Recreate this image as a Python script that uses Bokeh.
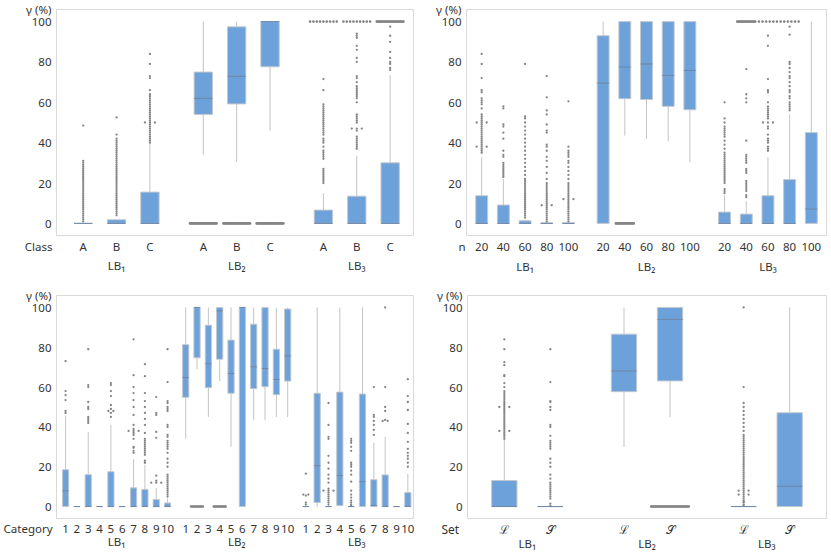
import numpy as np
from bokeh.plotting import figure
from bokeh.models import Range1d, FixedTicker, LinearAxis
from bokeh.layouts import column, row
from bokeh.embed import file_html
from bokeh.resources import INLINE

GROUPS = ["LB₁", "LB₂", "LB₃"]
Y_TITLE = "γ (%)"

# ---------------- Panel 1: by class ----------------
P1_title = "Class"
P1_cats = ["A", "B", "C"]
P1_q1 = [0, 0, 0, 54, 59.2, 77.6, 0, 0, 0]
P1_med = [0, 0, 0, 62, 72.9, 100, 0, 0, 0]
P1_q3 = [0, 1.8, 15.5, 75, 97.4, 100, 6.6, 13.5, 30]
P1_lo = [0, 0, 0, 34, 30.3, 46, 0, 0, 0]
P1_hi = [0, 1.8, 39.5, 100, 100, 100, 15, 33.5, 73.5]
P1_out = [
    [1, 2, 3, 4, 5, 6, 7, 8, 9, 10, 11, 12, 13, 14, 15, 16, 17, 18, 19, 20, 21, 22, 23, 24, 25, 26, 27, 28, 29, 30, 31, 48.5],
    [4, 5, 6, 7, 8, 9, 10, 11, 12, 13, 14, 15, 16, 17, 18, 19, 20, 21, 22, 23, 24, 25, 26, 27, 28, 29, 30, 31, 32, 33, 34, 35, 36, 37, 38, 39, 40, 41, 42, 44, 52.5],
    [40, 41, 42, 43, 44, 45, 46, 47, 48, 49, 50, 50, 50, 51, 52, 53, 54, 55, 56, 57, 58, 59, 60, 61, 62, 63, 64, 66, 72, 73, 79, 84],
    [], [], [],
    [20, 21, 22, 23, 24, 25, 26, 27, 32, 33, 34, 35, 36, 38, 40, 41, 42, 44, 45, 46, 47, 48, 49, 50, 51, 52, 53, 54, 55, 56, 57, 58, 59, 66, 71.5],
    [37, 38, 39, 40, 41, 42, 43, 46, 47, 47, 47, 50, 51, 52, 53, 54, 60, 62, 63, 64, 65, 66, 67, 68, 70, 72, 73, 80, 82, 86, 88, 92, 93, 94],
    [76, 77, 79, 80, 82, 85, 90, 93, 97.5],
]
# (box index, value, dense?)
P1_bands = [(3, 0, True), (4, 0, True), (5, 0, True), (6, 100, False), (7, 100, False), (8, 100, True)]

# ---------------- Panel 2: by n ----------------
P2_title = "n"
P2_cats = ["20", "40", "60", "80", "100"]
P2_q1 = [0, 0, 0, 0, 0, 0, 61.8, 61.4, 58, 56.3, 0, 0, 0, 0, 0]
P2_med = [0, 0, 0, 0, 0, 69.5, 77.5, 79, 73.3, 75.8, 0, 0, 0, 0, 7.1]
P2_q3 = [13.7, 9.1, 1.3, 0.3, 0.3, 93, 100, 100, 100, 100, 5.6, 4.6, 13.7, 21.7, 45]
P2_lo = [0, 0, 0, 0, 0, 0, 43.5, 41.9, 40.7, 30.3, 0, 0, 0, 0, 0]
P2_hi = [32.8, 22, 3, 0.5, 0.3, 100, 100, 100, 100, 100, 14, 11, 32.8, 54, 100]
P2_out = [
    [35, 36, 37, 38, 38, 38, 39, 40, 41, 42, 43, 44, 45, 46, 47, 48, 49, 50, 50, 50, 51, 52, 53, 54, 57, 59, 60, 61, 62, 65, 66, 72, 79, 84],
    [23, 24, 25, 26, 27, 28, 29, 30, 33, 34, 36, 42, 45, 48, 49, 57, 58],
    [3, 4, 5, 6, 7, 8, 9, 10, 11, 12, 13, 14, 15, 16, 17, 18, 19, 20, 21, 22, 24, 26, 28, 30, 32, 34, 36, 38, 40, 42, 44, 46, 48, 50, 52, 53, 79],
    [1, 2, 3, 4, 5, 6, 7, 8, 9, 9, 9, 10, 11, 12, 13, 14, 15, 16, 17, 18, 19, 20, 22, 25, 28, 31, 33, 36, 38, 39, 45, 46, 49, 54, 56, 62.5, 73],
    [1, 2, 3, 4, 5, 6, 7, 8, 9, 10, 11, 12, 12, 12, 13, 14, 15, 16, 17, 18, 19, 20, 22, 24, 26, 28, 30, 31, 33, 34, 35, 36, 38, 60.5],
    [], [], [], [], [],
    [15, 16, 17, 20, 21, 22, 23, 24, 25, 26, 27, 28, 29, 30, 31, 32, 33, 34, 35, 37, 39, 41, 43, 44, 45, 46, 47, 48, 50, 52, 60],
    [13, 14, 16, 17, 18, 19, 20, 21, 25, 26, 27, 30, 31, 32, 33, 34, 41, 60, 62, 64, 76.5],
    [36, 37, 38, 40, 41, 42, 44, 47, 48, 50, 50, 50, 52, 53, 54, 55, 56, 57, 58, 60, 65, 66, 71.5, 88, 93],
    [56, 57, 58, 59, 60, 62, 63, 65, 66, 68, 70, 72, 73, 75, 77, 79, 80, 93.5, 97.5],
    [],
]
P2_bands = [(6, 0, True), (11, 100, True), (12, 100, False), (13, 100, False)]

# ---------------- Panel 3: by category ----------------
P3_title = "Category"
P3_cats = ["1", "2", "3", "4", "5", "6", "7", "8", "9", "10"]
P3_q1 = [0, 0, 0, 0, 0, 0, 0, 0, 0, 0,
         54.9, 74.7, 59.7, 74, 56.9, 0, 59.2, 60.2, 56.2, 63,
         0, 2, 0, 0.5, 0, 0, 0, 0, 0, 0]
P3_med = [7.9, 0, 0, 0, 0, 0, 0, 0, 0, 0,
          64.8, 100, 71.7, 98.3, 66.8, 100, 70.2, 69.3, 63.8, 75.7,
          0, 20.5, 0, 15.5, 0, 12.5, 0.5, 0, 0, 0]
P3_q3 = [18.5, 0, 16, 0, 17.5, 0, 9.4, 8.6, 3.6, 1.8,
         81.3, 100, 91.1, 100, 83.6, 100, 91.6, 100, 79, 99.2,
         0, 56.9, 0, 57.5, 0, 56.5, 13.5, 15.9, 0, 7.1]
P3_lo = [0, 0, 0, 0, 0, 0, 0, 0, 0, 0,
         34, 68.9, 45, 63, 30, 0, 43.3, 43.3, 45, 45,
         0, 0, 0, 0, 0, 0, 0, 0, 0, 0]
P3_hi = [45.6, 0, 37.5, 0, 41, 0, 23.8, 21, 9.3, 4,
         100, 100, 100, 100, 100, 100, 100, 100, 100, 100,
         0, 100, 0, 100, 0, 100, 32, 35, 0, 16.4]
P3_out = [
    [47, 48, 53.5, 56, 58, 73],
    [],
    [42, 43, 44, 45, 49, 50, 52.5, 60, 61, 79],
    [],
    [45, 47, 48, 48, 49, 51, 55.5, 58, 61, 62],
    [],
    [27, 28, 29.5, 30, 34, 36, 37, 38, 38, 38, 39, 41, 46, 50, 53.5, 57, 60, 66, 84],
    [22, 23, 26, 27, 28, 29, 30, 31, 32, 33, 34, 37, 41, 44, 47, 50, 53, 57, 65.5, 71.5],
    [12, 12, 12, 13, 15.5, 34.5, 37.5, 46, 47, 55],
    [5, 6, 7, 8, 9, 10, 11, 12, 13, 14, 15, 16, 20, 22, 24, 27, 29, 30, 31, 32, 33, 35, 36, 40, 41, 48, 49, 50, 52, 53, 62.5, 79],
    [], [], [], [], [], [], [], [], [], [],
    [1, 2, 5.5, 6, 6, 16.5],
    [],
    [1, 2, 3, 4, 5, 6, 7, 8, 8, 8, 9, 12, 14, 16, 19, 22, 25.5, 34, 35, 41, 52],
    [],
    [0.5, 1, 2, 3, 4.5, 6, 8, 12.5, 16, 18, 20, 21, 22, 28, 30, 32, 33, 34],
    [],
    [36, 38.5, 41, 43, 45, 46, 60],
    [43, 43, 43.5, 48, 50, 60, 100],
    [],
    [20, 22, 24, 25.5, 27, 29, 32.5, 37, 41.5, 48.5, 52.5, 55.5, 64],
]
P3_bands = [(11, 0, True), (13, 0, True)]

# ---------------- Panel 4: by set ----------------
P4_title = "Set"
P4_cats = ["ℒ", "𝒮"]
P4_q1 = [0, 0, 57.7, 63.1, 0, 0]
P4_med = [0, 0, 68.1, 94, 0, 10.2]
P4_q3 = [13.1, 0, 86.6, 100, 0, 47.1]
P4_lo = [0, 0, 29.9, 45, 0, 0]
P4_hi = [33.5, 0, 100, 100, 0, 100]
P4_out = [
    [34, 35, 36, 37, 38, 38, 38, 39, 40, 41, 42, 43, 44, 45, 46, 47, 48, 49, 50, 50, 50, 51, 52, 53, 54, 55, 56, 57, 58, 60, 62, 65.5, 66, 71, 72.5, 79, 84],
    [0.5, 1.5, 4, 5, 6, 7, 8, 9, 10, 11, 12, 14, 16, 20, 22, 24, 29, 30, 31, 32, 33, 35.5, 40, 41, 48.5, 50, 52.5, 53, 62.5, 79],
    [], [],
    [0.5, 1, 2, 2.5, 3, 4, 5, 6, 6, 6, 7, 8, 8, 8, 9, 10, 11, 12, 13, 14, 15, 16, 17, 18, 19, 20, 21, 22, 23, 24, 25, 26, 27, 28, 29, 30, 31, 32, 33, 34, 35, 36, 38, 40, 42, 44, 46, 48, 50, 52, 60, 100],
    [],
]
P4_bands = [(3, 0, True)]

Y_TICKS = [0, 20, 40, 60, 80, 100]
Y0, Y1 = -6, 106

FONT = "Noto Sans"
TXT = "#333333"
BOX_FILL = "#6ca1d9"
BOX_LINE = "#c3c8cf"
MED = "#6f87a6"
WHISK = "#c4c4c4"
DOT = "#858585"
NBSP = "\u00a0"


def style_axis(ax, standoff, size="11.5px", font=FONT):
    ax.axis_line_color = None
    ax.major_tick_line_color = None
    ax.minor_tick_line_color = None
    ax.major_tick_out = 0
    ax.major_tick_in = 0
    ax.minor_tick_out = 0
    ax.minor_tick_in = 0
    ax.major_label_standoff = standoff
    ax.major_label_text_font = font
    ax.major_label_text_font_size = size
    ax.major_label_text_color = TXT


def build(title, cats, q1, med, q3, lo, hi, outs, bands, st):
    n = len(cats)
    step = 10 * n + 6
    pos = [g * step + 10 * i for g in range(3) for i in range(n)]
    centers = [g * step + 5 * (n - 1) for g in range(3)]
    x0, x1 = st["xr"]
    fw = st["w"] - st["ml"] - st["mr"]
    upp = (x1 - x0) / fw  # data units per pixel

    p = figure(width=st["w"], height=st["h"], x_range=Range1d(x0, x1),
               y_range=Range1d(Y0, Y1), output_backend="svg",
               toolbar_location=None, x_axis_location=None,
               min_border_left=st["ml"], min_border_right=st["mr"],
               min_border_top=st["mt"], min_border_bottom=st["mb"])
    p.grid.visible = False
    p.outline_line_color = "#d9d9d9"
    p.background_fill_color = "white"
    p.border_fill_color = "white"

    ya = p.yaxis[0]
    ya.ticker = FixedTicker(ticks=Y_TICKS + [Y1])
    ya.major_label_overrides = {Y1: Y_TITLE}
    style_axis(ya, 5)

    # category axis; its title sits at the left edge of the frame
    pad = NBSP * st["pad"]
    lab1 = {pp: cats[k % n] for k, pp in enumerate(pos)}
    lab1[x0] = title + pad
    ax1 = LinearAxis(ticker=FixedTicker(ticks=[x0] + pos), major_label_overrides=lab1)
    style_axis(ax1, st["cs"], size=st.get("cfs", "11.5px"), font=st.get("cfont", FONT))
    ax2 = LinearAxis(ticker=FixedTicker(ticks=centers),
                     major_label_overrides={c: GROUPS[g] for g, c in enumerate(centers)})
    style_axis(ax2, st["gs"])
    p.add_layout(ax1, "below")
    p.add_layout(ax2, "below")

    # whiskers
    p.segment(x0=pos, y0=lo, x1=pos, y1=q1, line_color=WHISK, line_width=1)
    p.segment(x0=pos, y0=q3, x1=pos, y1=hi, line_color=WHISK, line_width=1)
    # boxes
    bw = 5.5
    p.vbar(x=pos, width=bw, bottom=q1, top=q3, fill_color=BOX_FILL,
           line_color=BOX_LINE, line_width=1)
    # medians
    p.segment(x0=[x - bw / 2 for x in pos], y0=med, x1=[x + bw / 2 for x in pos],
              y1=med, line_color=MED, line_width=1)

    # outliers (tied values spread sideways)
    jit = 5 * upp
    ox, oy = [], []
    for k, vals in enumerate(outs):
        cnt = {}
        for v in vals:
            cnt[v] = cnt.get(v, 0) + 1
        for v, c in cnt.items():
            for j in range(c):
                ox.append(pos[k] + (j - (c - 1) / 2) * jit)
                oy.append(v)
    p.scatter(ox, oy, size=2.3, fill_color=DOT, line_color=None, marker="circle")

    # bands of many tied points
    bx, by = [], []
    half = st["bw"] * 10 / 2
    bpx = st["bw"] * 10 / upp
    for k, v, dense in bands:
        m = int(bpx / (1.0 if dense else 3.0)) + 1
        for xx in np.linspace(pos[k] - half, pos[k] + half, m):
            bx.append(float(xx))
            by.append(v)
    p.scatter(bx, by, size=2.6, fill_color=DOT, line_color=None, marker="circle")
    return p


p1 = build(P1_title, P1_cats, P1_q1, P1_med, P1_q3, P1_lo, P1_hi, P1_out, P1_bands,
           dict(w=415, h=280, ml=56, mr=2, mt=9, mb=44, xr=(-8, 99), bw=0.8, cs=3, gs=1, pad=12))
p2 = build(P2_title, P2_cats, P2_q1, P2_med, P2_q3, P2_lo, P2_hi, P2_out, P2_bands,
           dict(w=415, h=280, ml=51, mr=4, mt=9, mb=45, xr=(-7, 159), bw=0.83, cs=3, gs=2, pad=3))
p3 = build(P3_title, P3_cats, P3_q1, P3_med, P3_q3, P3_lo, P3_hi, P3_out, P3_bands,
           dict(w=415, h=273, ml=56, mr=2, mt=15, mb=35, xr=(-8, 307), bw=1.05, cs=2, gs=-5, pad=19))
p4 = build(P4_title, P4_cats, P4_q1, P4_med, P4_q3, P4_lo, P4_hi, P4_out, P4_bands,
           dict(w=415, h=273, ml=52, mr=4, mt=15, mb=35, xr=(-8, 70), bw=0.82, cs=2, gs=-5, pad=11,
                cfs="12px", cfont="Noto Sans, DejaVu Serif"))

layout = column(row(p1, p2), row(p3, p4))
open("out.html", "w").write(file_html(layout, INLINE))
